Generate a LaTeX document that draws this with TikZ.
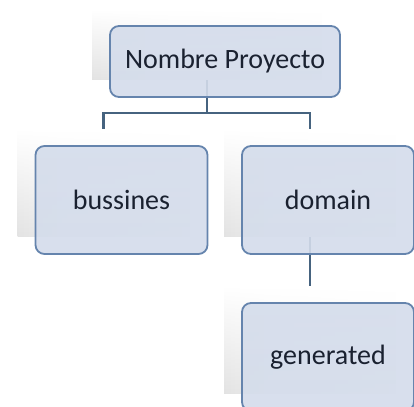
\documentclass[tikz,border=0pt]{standalone}
\usepackage{fontspec}
\setmainfont{Carlito}
\usetikzlibrary{fadings}
\definecolor{boxfill}{HTML}{D4DCEB}
\definecolor{boxline}{HTML}{6584AD}
\definecolor{connc}{HTML}{46637F}
\definecolor{txtc}{HTML}{1A2130}
\pgfdeclarehorizontalshading{backsh}{100bp}{color(0bp)=(black!12); color(3bp)=(black!30); color(12bp)=(black!15); color(40bp)=(black!7); color(100bp)=(black!1)}
\tikzfading[name=topfade, top color=transparent!100, middle color=transparent!10, bottom color=transparent!0]
\begin{document}
\begin{tikzpicture}[x=1pt,y=-1pt,
  backbox/.style={minimum width=172pt, minimum height=108pt, inner sep=0pt, shading=backsh, path fading=topfade},
  frontbox/.style={minimum width=172pt, minimum height=108pt, inner sep=0pt, draw=boxline, line width=1.8pt,
    fill=boxfill, fill opacity=0.9, text opacity=1, rounded corners=9pt, text=txtc,
    font=\fontsize{28}{33}\selectfont},
  connector/.style={draw=connc, line width=2.6pt}]
\useasboundingbox (0,0) rectangle (414,406);
\clip (0,0) rectangle (414,406);
% back shapes
\node[backbox, minimum width=230pt, minimum height=71pt] (b0) at (207,44.5) {};
\node[backbox] (b1) at (103.5,183) {};
\node[backbox] (b2) at (310,183) {};
\node[backbox] (b3) at (310,340) {};
% connectors
\coordinate (j) at (207,113);
\draw[connector] (b0.south) -- (j);
\draw[connector] (b1.north) |- (j) -| (b2.north);
\draw[connector] (b2.south) -- (b3.north);
% front boxes
\node[frontbox, minimum width=230pt, minimum height=71pt] (f0) at (225,61.5) {Nombre Proyecto};
\node[frontbox] (f1) at (121.5,200) {bussines};
\node[frontbox] (f2) at (328,200) {domain};
\node[frontbox] (f3) at (328,357) {generated};
\end{tikzpicture}
\end{document}
